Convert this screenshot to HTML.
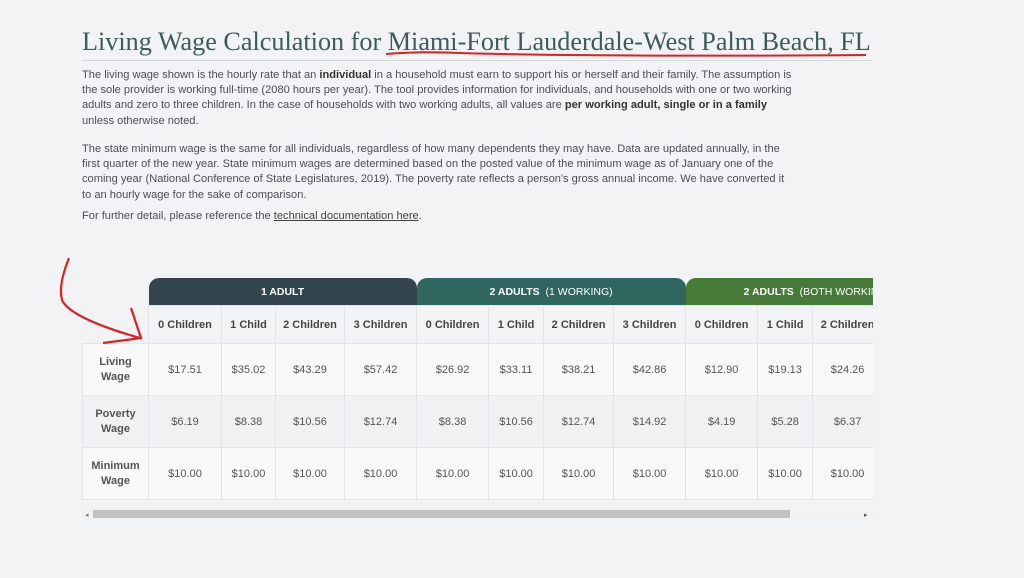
<!DOCTYPE html>
<html><head><meta charset="utf-8"><style>
body{margin:0;width:1024px;height:578px;background:#f2f3f5;font-family:"Liberation Sans",sans-serif;position:relative;overflow:hidden}
h1{position:absolute;left:82px;top:27px;margin:0;font-family:"Liberation Serif",serif;font-weight:normal;font-size:26.2px;color:#3e5b5c;white-space:nowrap}
.rule{position:absolute;left:82px;top:60px;width:790px;height:1px;background:#d4d7da}
.p{position:absolute;left:82px;width:712px;font-size:11.1px;line-height:15.2px;color:#4a4f54}
.p b{color:#333}
.p u{color:#444}
table{position:absolute;border-collapse:collapse;font-size:11px;color:#555;table-layout:fixed}
td{text-align:center;padding:0;border:1px solid #e2e5e8}
.band td{height:27px;color:#fff;font-weight:bold;font-size:10.5px;border:none}
.hdr td{height:37px;font-weight:bold;color:#444;background:#f2f3f5}
.r td{height:51px;background:#f8f9f9}
.r.g td{background:#f0f1f3}
.r td.l{font-weight:bold;color:#555;line-height:15px}
.wrap{position:absolute;left:82px;top:270px;width:791px;height:240px;overflow:hidden}
</style></head><body>
<h1>Living Wage Calculation for Miami-Fort Lauderdale-West Palm Beach, FL</h1>
<div class="rule"></div>
<div class="p" style="top:68px">The living wage shown is the hourly rate that an <b>individual</b> in a household must earn to support his or herself and their family. The assumption is the sole provider is working full-time (2080 hours per year). The tool provides information for individuals, and households with one or two working adults and zero to three children. In the case of households with two working adults, all values are <b>per working adult, single or in a family</b> unless otherwise noted.</div>
<div class="p" style="top:142px">The state minimum wage is the same for all individuals, regardless of how many dependents they may have. Data are updated annually, in the first quarter of the new year. State minimum wages are determined based on the posted value of the minimum wage as of January one of the coming year (National Conference of State Legislatures, 2019). The poverty rate reflects a person's gross annual income. We have converted it to an hourly wage for the sake of comparison.</div>
<div class="p" style="top:209px">For further detail, please reference the <u>technical documentation here</u>.</div>
<div class="wrap"><table style="top:8px;left:0;width:800px">
<colgroup><col style="width:66px"><col style="width:73px"><col style="width:54px"><col style="width:69px"><col style="width:72px"><col style="width:72px"><col style="width:55px"><col style="width:70px"><col style="width:72px"><col style="width:72px"><col style="width:55px"><col style="width:70px"></colgroup>
<tr class="band"><td style="background:transparent"></td><td colspan="4" style="background:#334650;border-radius:10px 10px 0 0">1 ADULT</td><td colspan="4" style="background:#2f6660;border-radius:10px 10px 0 0">2 ADULTS &nbsp;<span style="font-weight:normal">(1 WORKING)</span></td><td colspan="3" style="background:#477a38;border-radius:10px 0 0 0;text-align:left;padding-left:58px;white-space:nowrap">2 ADULTS &nbsp;<span style="font-weight:normal">(BOTH WORKING)</span></td></tr>
<tr class="hdr"><td style="border:none;border-bottom:1px solid #e2e5e8"></td><td>0 Children</td><td>1 Child</td><td>2 Children</td><td>3 Children</td><td>0 Children</td><td>1 Child</td><td>2 Children</td><td>3 Children</td><td>0 Children</td><td>1 Child</td><td>2 Children</td></tr>
<tr class="r"><td class="l">Living<br>Wage</td><td>$17.51</td><td>$35.02</td><td>$43.29</td><td>$57.42</td><td>$26.92</td><td>$33.11</td><td>$38.21</td><td>$42.86</td><td>$12.90</td><td>$19.13</td><td>$24.26</td></tr>
<tr class="r g"><td class="l">Poverty<br>Wage</td><td>$6.19</td><td>$8.38</td><td>$10.56</td><td>$12.74</td><td>$8.38</td><td>$10.56</td><td>$12.74</td><td>$14.92</td><td>$4.19</td><td>$5.28</td><td>$6.37</td></tr>
<tr class="r"><td class="l">Minimum<br>Wage</td><td>$10.00</td><td>$10.00</td><td>$10.00</td><td>$10.00</td><td>$10.00</td><td>$10.00</td><td>$10.00</td><td>$10.00</td><td>$10.00</td><td>$10.00</td><td>$10.00</td></tr>
</table></div>
<div style="position:absolute;left:82px;top:509px;width:791px;height:10px;background:#f1f1f1"></div>
<div style="position:absolute;left:93px;top:510px;width:697px;height:8px;background:#c1c1c1"></div>
<div style="position:absolute;left:85px;top:511px;font-size:7px;color:#777">◂</div>
<div style="position:absolute;left:864px;top:511px;font-size:7px;color:#555">▸</div>
<svg width="1024" height="578" style="position:absolute;left:0;top:0">
<path d="M386 54 Q420 51 460 53 Q600 57 866 55" stroke="#e02020" stroke-width="2" fill="none"/>
<path d="M69 258 Q58 285 62 300 Q70 318 140 338" stroke="#e02020" stroke-width="2.2" fill="none"/>
<path d="M131 308 L141 338 L103 343" stroke="#e02020" stroke-width="2.2" fill="none"/>
</svg>
</body></html>
